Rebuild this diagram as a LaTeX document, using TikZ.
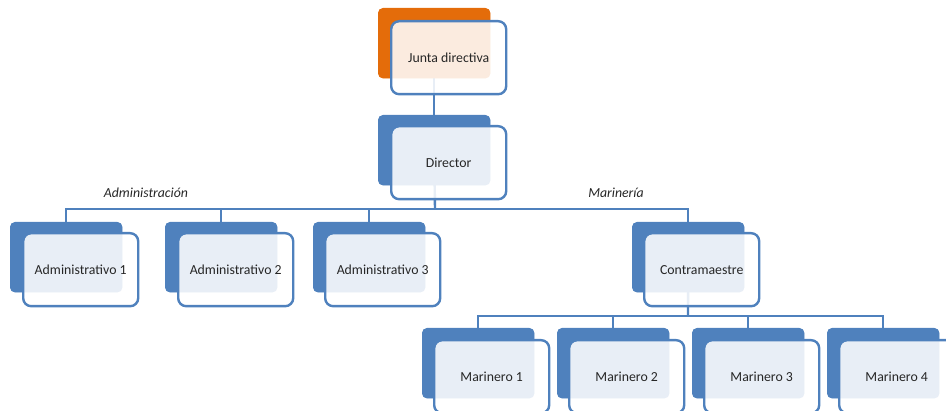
\documentclass[tikz,border=0pt]{standalone}
\usepackage{fontspec}
\setmainfont{Carlito}
\definecolor{obl}{HTML}{4F81BD}
\definecolor{oor}{HTML}{E46C0A}
\definecolor{otx}{HTML}{262626}
\tikzset{
  backbox/.style={draw=none, fill=obl, rounded corners=5pt, minimum width=112pt, minimum height=70pt, inner sep=0pt, anchor=north west},
  frontbox/.style={draw=obl, line width=2.4pt, fill=white, fill opacity=0.87, text opacity=1, rounded corners=8pt, minimum width=115pt, minimum height=73pt, inner sep=0pt, anchor=north west, text=otx, font=\fontsize{13.8}{16}\selectfont},
  conn/.style={draw=obl, line width=2.4pt},
  grouplabel/.style={font=\fontsize{13.8}{16}\selectfont\itshape, text=otx}
}
\begin{document}
\begin{tikzpicture}[x=1pt,y=-1pt]
\useasboundingbox (0,0) rectangle (946,411);
\clip (0,0) rectangle (946,411);
% back boxes (named, define connector anchors)
\node[backbox, fill=oor] (jb) at (378,8) {};
\node[backbox] (db) at (378,115) {};
\node[backbox] (a1b) at (10,222) {};
\node[backbox] (a2b) at (165,222) {};
\node[backbox] (a3b) at (313,222) {};
\node[backbox] (cb) at (632,222) {};
\node[backbox] (m1b) at (422,328) {};
\node[backbox] (m2b) at (557,328) {};
\node[backbox] (m3b) at (692,328) {};
\node[backbox] (m4b) at (827,328) {};
% bus coordinates
\coordinate (busA) at (435,209);
\coordinate (busB) at (688,316);
% connectors (behind front boxes)
\draw[conn] (jb.center) -- (db.center);
\draw[conn] (db.center) -- (busA);
\draw[conn] (a1b.center) |- (busA);
\draw[conn] (a2b.center) |- (busA);
\draw[conn] (a3b.center) |- (busA);
\draw[conn] (cb.center) |- (busA);
\draw[conn] (cb.center) -- (busB);
\draw[conn] (m1b.center) |- (busB);
\draw[conn] (m2b.center) |- (busB);
\draw[conn] (m3b.center) |- (busB);
\draw[conn] (m4b.center) |- (busB);
% redraw back boxes over connectors
\foreach \n in {db,a1b,a2b,a3b,cb,m1b,m2b,m3b,m4b}{
  \fill[obl, rounded corners=5pt] (\n.north west) rectangle (\n.south east);
}
\fill[oor, rounded corners=5pt] (jb.north west) rectangle (jb.south east);
% front boxes with text
\node[frontbox] (j) at (390,20) {Junta directiva};
\node[frontbox] (d) at (390,125) {Director};
\node[frontbox] (a1) at (22,232) {Administrativo 1};
\node[frontbox] (a2) at (177,232) {Administrativo 2};
\node[frontbox] (a3) at (324,232) {Administrativo 3};
\node[frontbox] (c) at (643,232) {Contramaestre};
\node[frontbox] (m1) at (433,339) {Marinero 1};
\node[frontbox] (m2) at (568,339) {Marinero 2};
\node[frontbox] (m3) at (703,339) {Marinero 3};
\node[frontbox] (m4) at (838,339) {Marinero 4};
% group labels
\node[grouplabel] (la) at (146,193) {Administración};
\node[grouplabel] (lm) at (616,193) {Marinería};
\end{tikzpicture}
\end{document}
